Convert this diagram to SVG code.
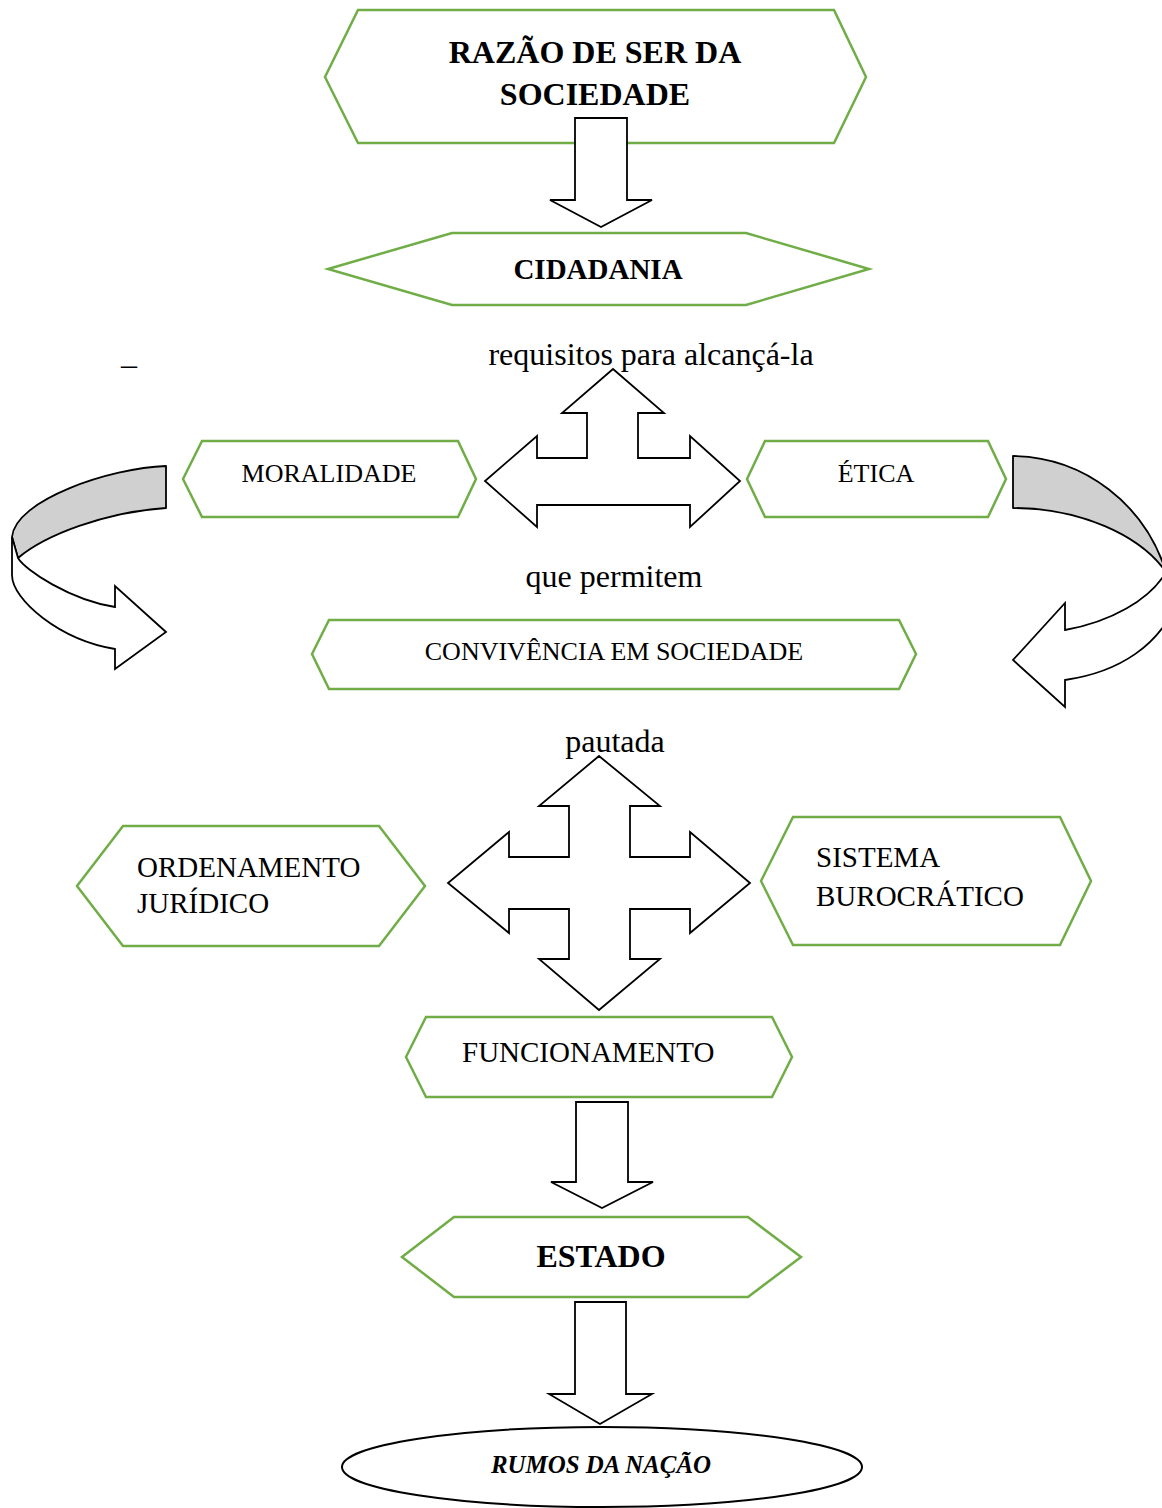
<svg xmlns="http://www.w3.org/2000/svg" width="1162" height="1508" viewBox="0 0 1162 1508">
<style>
.hex{fill:#ffffff;stroke:#70AD47;stroke-width:2.5;stroke-linejoin:miter}
.arr{fill:#ffffff;stroke:#000000;stroke-width:1.8;stroke-linejoin:miter}
.band{fill:#D0D0D0;stroke:#000000;stroke-width:1.8;stroke-linejoin:round}
.t{font-family:"Liberation Serif","Times New Roman",serif;fill:#000000}
.b{font-weight:bold}
.lbl{font-size:32px}
.n26{font-size:26px}
.n29{font-size:29px}
.mid{text-anchor:middle}
</style>
<rect x="0" y="0" width="1162" height="1508" fill="#ffffff"/>

<g id="node-razao">
  <polygon class="hex" points="325,77 358,10 834,10 866,77 834,143 358,143"/>
</g>
<g id="node-cidadania">
  <polygon class="hex" points="328,269 452,233 746,233 869,269 746,305 452,305"/>
</g>
<g id="node-moralidade">
  <polygon class="hex" points="183,479 202,441 458,441 476,479 458,517 202,517"/>
</g>
<g id="node-etica">
  <polygon class="hex" points="747,479 765,441 988,441 1006,479 988,517 765,517"/>
</g>
<g id="node-convivencia">
  <polygon class="hex" points="312,654 329,620 899,620 916,654 899,689 329,689"/>
</g>
<g id="node-ordenamento">
  <polygon class="hex" points="77,886 123,826 379,826 425,886 379,946 123,946"/>
</g>
<g id="node-sistema">
  <polygon class="hex" points="761,881 793,817 1060,817 1091,881 1060,945 793,945"/>
</g>
<g id="node-funcionamento">
  <polygon class="hex" points="406,1057 426,1017 772,1017 792,1057 772,1097 426,1097"/>
</g>
<g id="node-estado">
  <polygon class="hex" points="402,1257 454,1217 748,1217 801,1257 748,1297 454,1297"/>
</g>
<g id="node-rumos">
  <ellipse cx="602" cy="1467" rx="260" ry="40" fill="#ffffff" stroke="#000000" stroke-width="2"/>
</g>

<g id="connectors">
  <path class="arr" d="M575,118 L627,118 L627,200 L652,200 L601,227 L550,200 L575,200 Z"/>
  <path class="arr" d="M613,369 L664,413 L638,413 L638,458 L690,458 L690,436 L740,481 L690,527 L690,505 L537,505 L537,527 L485,481 L537,436 L537,458 L587,458 L587,413 L562,413 Z"/>
  <path class="band" d="M166,466 C110,468 15,500 12,537 L18,558 C45,535 105,512 166,508 Z"/>
  <path class="arr" d="M12,537 L18,558 C25,570 70,600 115,607 L115,586 L166,632 L115,669 L115,649 C60,640 12,600 12,575 Z"/>
  <path class="band" d="M1013,456 C1085,457 1145,505 1166,572 C1140,535 1080,508 1013,508 Z"/>
  <path class="arr" d="M1166,572 C1150,600 1110,622 1065,630 L1065,603 L1013,660 L1065,707 L1065,680 C1120,672 1160,645 1178,600 L1185,572 Z"/>
  <path class="arr" d="M599,756 L660,806 L630,806 L630,857 L690,857 L690,832 L750,883 L690,933 L690,909 L630,909 L630,959 L660,959 L599,1010 L539,959 L569,959 L569,909 L509,909 L509,933 L448,883 L509,832 L509,857 L569,857 L569,806 L539,806 Z"/>
  <path class="arr" d="M576,1102 L628,1102 L628,1182 L653,1182 L602,1208 L551,1182 L576,1182 Z"/>
  <path class="arr" d="M575,1302 L626,1302 L626,1394 L652,1394 L600,1424 L549,1394 L575,1394 Z"/>
</g>

<g id="labels">
  <text class="t b mid" font-size="32" x="595" y="63">RAZÃO DE SER DA</text>
  <text class="t b mid" font-size="32" x="595" y="105">SOCIEDADE</text>
  <text class="t b mid" font-size="29" x="598" y="279">CIDADANIA</text>
  <text class="t lbl" x="121" y="375">–</text>
  <text class="t lbl mid" x="651" y="365">requisitos para alcançá-la</text>
  <text class="t n26 mid" x="329" y="482">MORALIDADE</text>
  <text class="t n26 mid" x="876" y="482">ÉTICA</text>
  <text class="t lbl mid" x="614" y="587">que permitem</text>
  <text class="t n26 mid" x="614" y="660">CONVIVÊNCIA EM SOCIEDADE</text>
  <text class="t lbl mid" x="615" y="752">pautada</text>
  <text class="t n29" x="137" y="877">ORDENAMENTO</text>
  <text class="t n29" x="137" y="913">JURÍDICO</text>
  <text class="t n29" x="816" y="867">SISTEMA</text>
  <text class="t n29" x="816" y="906">BUROCRÁTICO</text>
  <text class="t n29" x="462" y="1062">FUNCIONAMENTO</text>
  <text class="t b mid" font-size="32" x="601" y="1267">ESTADO</text>
  <text class="t mid" font-size="26" font-style="italic" font-weight="bold" x="601" y="1473" textLength="220" lengthAdjust="spacingAndGlyphs">RUMOS DA NAÇÃO</text>
</g>
</svg>
